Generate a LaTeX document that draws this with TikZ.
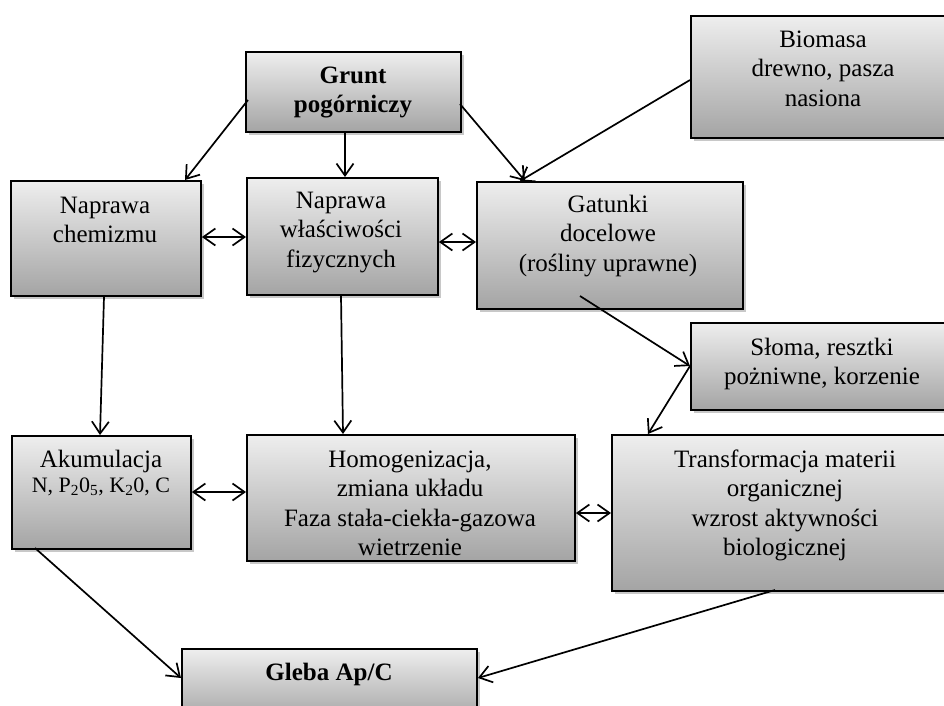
\documentclass[tikz,border=0pt]{standalone}
\usepackage{fontspec}
\setmainfont{Liberation Serif}
\usetikzlibrary{arrows.meta,shadows}
\definecolor{boxtop}{RGB}{238,238,238}
\definecolor{boxbot}{RGB}{164,164,164}
\tikzset{
  box/.style={draw=black, line width=1.9pt, top color=boxtop, bottom color=boxbot,
    inner sep=0pt, anchor=north west,
    drop shadow={shadow xshift=3pt, shadow yshift=-3pt, opacity=0.3, fill=black!70}},
  txt/.style={align=center, inner sep=0pt, anchor=north, font=\fontsize{25}{29.5}\selectfont},
  arr/.style={line width=1.7pt, -{Straight Barb[length=12pt,width=17pt]}},
  darr/.style={line width=1.7pt, {Straight Barb[length=12pt,width=17pt]}-{Straight Barb[length=12pt,width=17pt]}},
}
\begin{document}
\begin{tikzpicture}[x=1pt,y=-1pt]
\clip (0,0) rectangle (944,705);
\fill[white] (0,0) rectangle (944,705);
% boxes
\node[box, minimum width=215pt, minimum height=80pt] (grunt) at (245,51) {};
\node[box, minimum width=270pt, minimum height=122pt] (bio) at (690,15) {};
\node[box, minimum width=190pt, minimum height=115pt] (chem) at (10,180) {};
\node[box, minimum width=191pt, minimum height=117pt] (fiz) at (246,177) {};
\node[box, minimum width=266pt, minimum height=127pt] (gat) at (476,181) {};
\node[box, minimum width=265pt, minimum height=87pt] (sloma) at (690,322) {};
\node[box, minimum width=179pt, minimum height=113pt] (akum) at (11,435) {};
\node[box, minimum width=328pt, minimum height=126pt] (homog) at (246,434) {};
\node[box, minimum width=350pt, minimum height=156pt] (trans) at (611,434) {};
\node[box, minimum width=295pt, minimum height=72pt] (gleba) at (181,648) {};
% texts
\node[txt, font=\fontsize{25}{29.5}\selectfont\bfseries] (tgrunt) at (353,62.35) {\strut Grunt\\pogórniczy};
\node[txt] (tbio) at (823,26.35) {\strut Biomasa\\drewno, pasza\\nasiona};
\node[txt] (tchem) at (105,192.35) {\strut Naprawa\\chemizmu};
\node[txt] (tfiz) at (341,187.35) {\strut Naprawa\\właściwości\\fizycznych};
\node[txt] (tgat) at (608,191.35) {\strut Gatunki\\docelowe\\(rośliny uprawne)};
\node[txt] (tsloma) at (822,334.35) {\strut Słoma, resztki\\pożniwne, korzenie};
\node[txt] (takum) at (101,446.35) {\strut Akumulacja\\[-4pt]{\fontsize{22}{26}\selectfont N, P\textsubscript{2}0\textsubscript{5}, K\textsubscript{2}0, C}};
\node[txt] (thomog) at (410,446.35) {\strut Homogenizacja,\\zmiana układu\\Faza stała-ciekła-gazowa\\wietrzenie};
\node[txt] (ttrans) at (785,446.35) {\strut Transformacja materii\\organicznej\\wzrost aktywności\\biologicznej};
\node[txt, font=\fontsize{25}{29.5}\selectfont\bfseries] (tgleba) at (329,659.35) {\strut Gleba Ap/C};
% connector end points
\coordinate (g1) at (248,100);
\coordinate (g2) at (460,104);
\coordinate (b1) at (690,80);
\coordinate (gatin) at (580,296);
\coordinate (sl) at (690,366);
\coordinate (ak) at (35,548);
\coordinate (tr) at (775,590);
% connectors
\draw[arr] (g1) -- (chem.north east -| 185,0);
\draw[arr] (grunt.south -| 345,0) -- (fiz.north -| 345,0);
\draw[arr] (g2) -- (gat.north -| 525,0);
\draw[arr] (b1) -- (gat.north -| 520,0);
\draw[darr] (chem.east |- 0,237) -- (fiz.west |- 0,237);
\draw[darr] (fiz.east |- 0,242) -- (gat.west |- 0,242);
\draw[arr] (chem.south -| 104,0) -- (akum.north -| 100,0);
\draw[arr] (fiz.south -| 341,0) -- (homog.north -| 343,0);
\draw[arr] (gatin) -- (sl);
\draw[arr] (sl) -- (trans.north -| 648,0);
\draw[darr] (akum.east |- 0,492) -- (homog.west |- 0,492);
\draw[darr] (homog.east |- 0,513) -- (trans.west |- 0,513);
\draw[arr] (ak) -- (gleba.west |- 0,678);
\draw[arr] (tr) -- (gleba.east |- 0,678);
\end{tikzpicture}
\end{document}
